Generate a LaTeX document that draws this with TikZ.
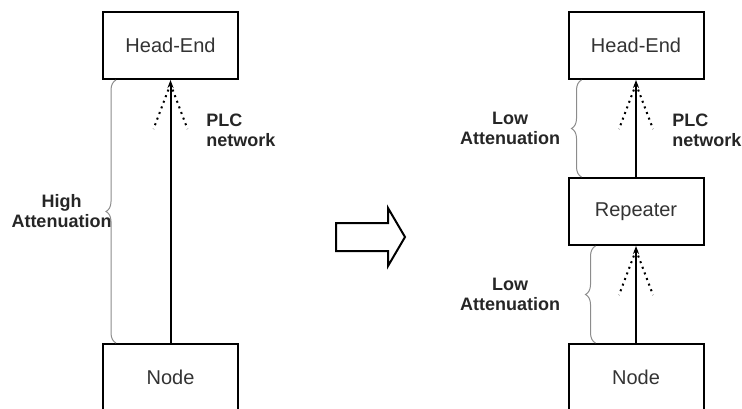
\documentclass[tikz,border=0pt]{standalone}
\usepackage{fontspec}
\setmainfont{Liberation Sans}
\usetikzlibrary{arrows.meta,positioning,decorations.pathreplacing}

\begin{document}
\begin{tikzpicture}[x=0.5pt, y=-0.5pt,
    box/.style={draw, line width=1pt, minimum width=67.5pt, minimum height=33.5pt, font=\fontsize{10}{12}\selectfont, text=black!80, inner sep=0pt},
    link/.style={-{Stealth[length=4pt,width=3pt]}, line width=1pt},
    ray/.style={dotted, line width=1pt},
    bracket/.style={decorate, decoration={brace, amplitude=5pt}, black!45, line width=0.5pt},
    attlabel/.style={font=\fontsize{9}{10}\selectfont\bfseries, text=black!85, align=center, inner sep=0pt},
    bigarrow/.style={line width=1pt, line join=miter},
]
\useasboundingbox (0,0) rectangle (742,408);
\clip (0,0) rectangle (742,408);

% === Before: direct link ===
\node[box] (headL) at (170.5, 45.5) {Head-End};
\node[box] (nodeL) at (170.5, 377.5) {Node};
\draw[link] (nodeL.north) -- (headL.south);

\draw[bracket] ([xshift=7pt]nodeL.north west) -- ([xshift=7pt]headL.south west)
    node[midway, left=2pt, attlabel] {High\\Attenuation};
\node[attlabel, align=left, anchor=west] (plcL) at (206, 130) {PLC\\network};

% === Transition arrow ===
\draw[bigarrow] (336,223) -- (388,223) -- (388,208) -- (405,237) -- (388,266) -- (388,251) -- (336,251) -- cycle;

% === After: with repeater ===
\node[box] (headR) at (636, 45.5) {Head-End};
\node[box] (repR) at (636, 211.5) {Repeater};
\node[box] (nodeR) at (636, 377.5) {Node};
\draw[link] (repR.north) -- (headR.south);
\draw[link] (nodeR.north) -- (repR.south);

\draw[bracket] ([xshift=7pt]repR.north west) -- ([xshift=7pt]headR.south west)
    node[midway, left=10.5pt, attlabel] {Low\\Attenuation};
\draw[bracket] ([xshift=14pt]nodeR.north west) -- ([xshift=14pt]repR.south west)
    node[midway, left=17.5pt, attlabel] {Low\\Attenuation};
\node[attlabel, align=left, anchor=west] (plcR) at (672, 130) {PLC\\network};

% dotted rays under each receiving box
\foreach \s in {headL,headR,repR}{
    \draw[ray] ([yshift=-2pt]\s.south) -- ++(-17,45);
    \draw[ray] ([yshift=-2pt]\s.south) -- ++(17,45);
}

\end{tikzpicture}
\end{document}
